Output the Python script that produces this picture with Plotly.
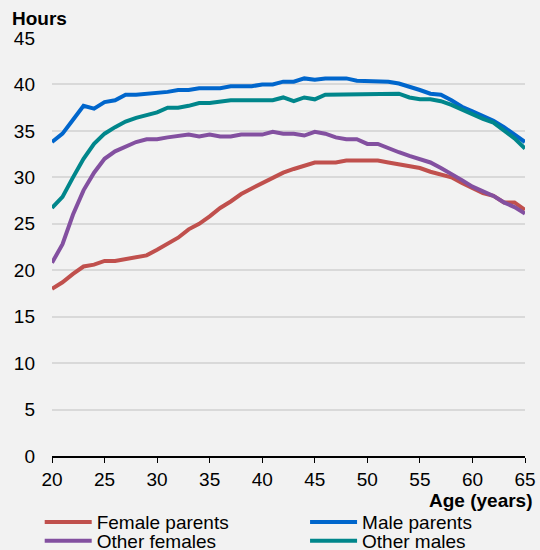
import plotly.graph_objects as go

ages = list(range(20, 66))

female_parents = [18.0, 18.7, 19.6, 20.4, 20.6, 21.0, 21.0, 21.2, 21.4, 21.6,
                  22.2, 22.8, 23.5, 24.4, 25.0, 25.8, 26.7, 27.4, 28.2, 28.8,
                  29.4, 30.0, 30.5, 30.9, 31.2, 31.6, 31.6, 31.6, 31.8, 31.8,
                  31.8, 31.8, 31.6, 31.4, 31.2, 31.0, 30.6, 30.3, 30.0, 29.4,
                  28.9, 28.3, 28.0, 27.3, 27.3, 26.5]
male_parents = [33.8, 34.7, 36.2, 37.7, 37.4, 38.1, 38.3, 38.9, 38.9, 39.0,
                39.0, 39.2, 39.4, 39.4, 39.6, 39.6, 39.6, 39.8, 39.8, 39.8,
                40.0, 40.0, 40.3, 40.3, 40.65, 40.5, 40.65, 40.65, 40.65, 40.4,
                40.4, 40.3, 40.3, 40.1, 39.8, 39.4, 39.0, 38.9, 38.3, 37.6,
                37.1, 36.6, 36.1, 35.4, 34.6, 33.8]
other_females = [20.8, 22.8, 26.0, 28.6, 30.5, 32.0, 32.8, 33.3, 33.8, 34.1,
                 34.1, 34.3, 34.5, 34.6, 34.4, 34.6, 34.4, 34.4, 34.6, 34.6,
                 34.6, 34.9, 34.7, 34.7, 34.5, 34.9, 34.7, 34.3, 34.1, 34.1,
                 33.6, 33.6, 33.1, 32.7, 32.3, 31.9, 31.6, 31.0, 30.4, 29.7,
                 29.0, 28.45, 28.0, 27.3, 26.8, 26.1]
other_males = [26.7, 27.9, 30.0, 32.0, 33.6, 34.7, 35.4, 36.0, 36.4, 36.7,
               37.0, 37.5, 37.5, 37.7, 38.0, 38.0, 38.2, 38.3, 38.3, 38.3,
               38.3, 38.3, 38.6, 38.2, 38.6, 38.4, 38.9, 38.9, 38.9, 38.9,
               38.9, 39.0, 39.0, 39.0, 38.6, 38.4, 38.4, 38.2, 37.8, 37.3,
               36.7, 36.3, 35.9, 35.1, 34.2, 33.1]

x_ticks = [20, 25, 30, 35, 40, 45, 50, 55, 60, 65]
y_ticks = [0, 5, 10, 15, 20, 25, 30, 35, 40, 45]

series = [
    ("Female parents", female_parents, "#c0504d", "legend"),
    ("Male parents", male_parents, "#0066cc", "legend2"),
    ("Other females", other_females, "#8350a0", "legend3"),
    ("Other males", other_males, "#00868b", "legend4"),
]

fig = go.Figure()
for name, vals, color, lg in series:
    fig.add_trace(go.Scatter(x=ages, y=vals, mode="lines", name=name,
                             legend=lg, line=dict(color=color, width=4)))

font = "Liberation Sans, Arial, sans-serif"
FS = 19
leg_common = dict(orientation="h", xanchor="left", yanchor="middle",
                  font=dict(size=FS), itemwidth=47,
                  bgcolor="rgba(0,0,0,0)")
col1 = -0.026
col2 = 0.535
row1 = -0.158
row2 = -0.203
fig.update_layout(
    width=540, height=550,
    margin=dict(l=52, r=15, t=38, b=94, autoexpand=False),
    paper_bgcolor="#f2f2f2", plot_bgcolor="#f2f2f2",
    font=dict(family=font, size=FS, color="#000000"),
    showlegend=True,
    legend=dict(x=col1, y=row1, **leg_common),
    legend2=dict(x=col2, y=row1, **leg_common),
    legend3=dict(x=col1, y=row2, **leg_common),
    legend4=dict(x=col2, y=row2, **leg_common),
    xaxis=dict(range=[20, 65], tickvals=x_ticks, showgrid=False,
               showline=True, linecolor="#000000", linewidth=1.5,
               ticks="outside", ticklen=5, tickcolor="#000000",
               zeroline=False, tickfont=dict(size=FS), automargin=False),
    yaxis=dict(range=[0, 45], tickvals=y_ticks, showgrid=True,
               gridcolor="#d9d9d9", gridwidth=1.5, zeroline=False,
               showline=False, tickfont=dict(size=FS), ticks="",
               ticklabelstandoff=16, automargin=False),
    annotations=[
        dict(text="<b>Hours</b>", xref="paper", yref="paper", x=-0.088, y=1.0,
             xanchor="left", yanchor="middle", showarrow=False,
             font=dict(size=FS), yshift=20),
        dict(text="<b>Age (years)</b>", xref="paper", yref="paper", x=1.021, y=0,
             xanchor="right", yanchor="middle", showarrow=False,
             font=dict(size=FS), yshift=-44),
    ],
)

fig.write_html(
    "out.html",
    config={"displayModeBar": False},
    post_script="document.body.style.margin='0';document.body.style.background='#f2f2f2';",
)
